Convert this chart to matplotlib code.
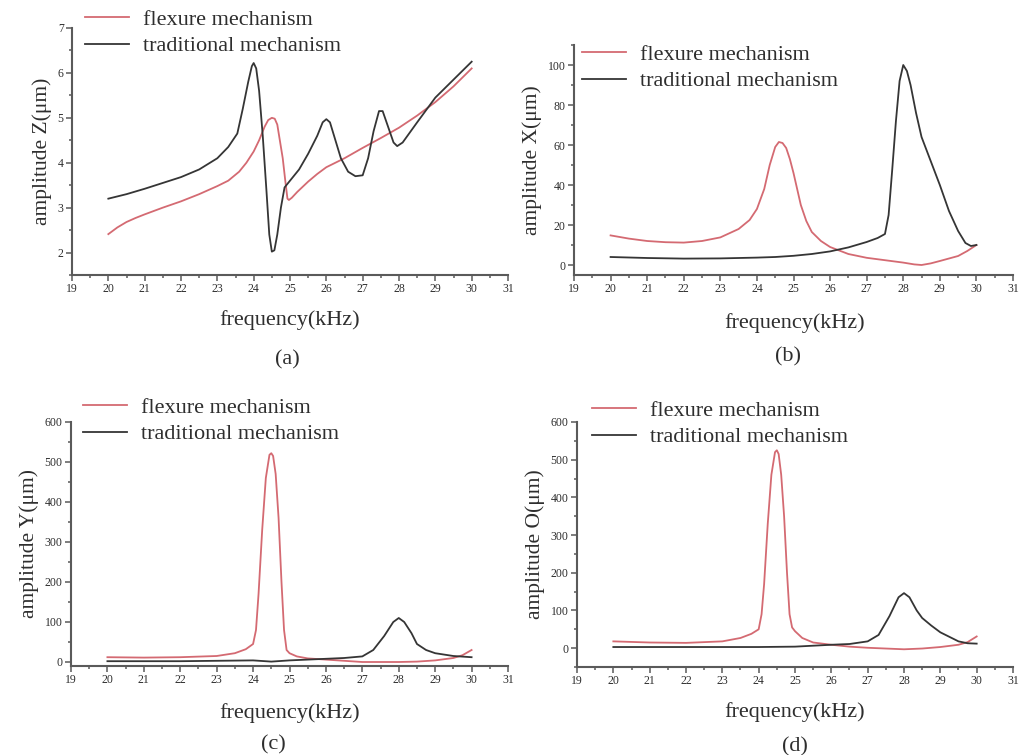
import matplotlib
matplotlib.use("Agg")
import matplotlib.pyplot as plt
from matplotlib.ticker import MultipleLocator

plt.rcParams["font.family"] = ["Liberation Serif", "DejaVu Serif"]

RED = "#d46a72"
DARK = "#353535"
AXC = "#5a5a5a"
TXT = "#2e2e2e"

# ---- (a) amplitude Z ----
fz_flex = [20, 20.25, 20.5, 20.75, 21, 21.5, 22, 22.5, 23, 23.3, 23.6, 23.8, 24, 24.15, 24.3, 24.4, 24.5,
           24.58, 24.65, 24.72, 24.8, 24.87, 24.93, 24.97, 25.05, 25.2, 25.5, 25.75, 26, 26.5, 27, 27.5,
           28, 28.5, 29, 29.5, 30]
z_flex = [2.41, 2.56, 2.68, 2.77, 2.85, 3.0, 3.14, 3.3, 3.48, 3.6, 3.8, 4.0, 4.25, 4.5, 4.8, 4.95, 5.0,
          4.98, 4.85, 4.5, 4.1, 3.6, 3.2, 3.17, 3.22, 3.35, 3.58, 3.75, 3.9, 4.1, 4.33, 4.55,
          4.78, 5.05, 5.35, 5.7, 6.1]
fz_trad = [20, 20.5, 21, 21.5, 22, 22.5, 23, 23.3, 23.55, 23.7, 23.85, 23.95, 24, 24.07, 24.15, 24.25,
           24.35, 24.43, 24.5, 24.57, 24.65, 24.75, 24.85, 25, 25.25, 25.5, 25.75, 25.9, 26, 26.1, 26.25,
           26.4, 26.6, 26.8, 27, 27.15, 27.3, 27.45, 27.55, 27.7, 27.85, 27.95, 28.1, 28.5, 29, 29.5, 30]
z_trad = [3.2, 3.3, 3.42, 3.55, 3.68, 3.85, 4.1, 4.35, 4.65, 5.2, 5.8, 6.15, 6.22, 6.1, 5.6, 4.6,
          3.4, 2.4, 2.02, 2.05, 2.4, 3.0, 3.45, 3.6, 3.85, 4.2, 4.6, 4.9, 4.97, 4.9, 4.5,
          4.1, 3.8, 3.7, 3.72, 4.1, 4.7, 5.15, 5.15, 4.8, 4.45, 4.37, 4.45, 4.9, 5.45, 5.85, 6.25]

# ---- (b) amplitude X ----
fx_flex = [20, 20.5, 21, 21.5, 22, 22.5, 23, 23.5, 23.8, 24, 24.2, 24.35, 24.5, 24.6, 24.7, 24.8, 24.9,
           25, 25.1, 25.2, 25.35, 25.5, 25.75, 26, 26.5, 27, 27.5, 28, 28.3, 28.5, 28.75, 29, 29.5,
           29.75, 30]
x_flex = [14.8, 13.2, 12, 11.4, 11.2, 12, 13.8, 18, 22.5, 28, 38, 50, 59, 61.5, 61, 58.5, 53,
          46, 38, 30, 22, 16.5, 12, 9, 5.5, 3.6, 2.4, 1.2, 0.3, 0, 0.8, 2, 4.5,
          7, 10]
fx_trad = [20, 21, 22, 23, 24, 24.5, 25, 25.5, 26, 26.5, 27, 27.3, 27.5, 27.6, 27.7, 27.8, 27.9, 28,
           28.1, 28.2, 28.35, 28.5, 28.75, 29, 29.25, 29.5, 29.7, 29.85, 30]
x_trad = [4, 3.5, 3.2, 3.3, 3.7, 4.0, 4.6, 5.5, 6.8, 8.8, 11.5, 13.5, 15.5, 25, 48, 72, 92, 100,
          97, 90, 76, 64, 52, 40, 27, 17, 11, 9.5, 10]

# ---- (c) amplitude Y ----
fy_flex = [20, 21, 22, 23, 23.5, 23.8, 24, 24.08, 24.15, 24.25, 24.35, 24.45, 24.5, 24.55, 24.62, 24.7,
           24.78, 24.85, 24.92, 25, 25.2, 25.5, 26, 26.5, 27, 28, 28.5, 29, 29.5, 29.75, 30]
y_flex = [12, 11, 12, 15, 22, 32, 45, 80, 170, 330, 460, 518, 522, 515, 470, 360,
          200, 80, 30, 22, 14, 9, 6, 3, 0, 0, 1, 4, 10, 17, 30]
fy_trad = [20, 22, 24, 24.5, 25, 26, 26.5, 27, 27.3, 27.6, 27.85, 28, 28.15, 28.35, 28.5, 28.75, 29,
           29.5, 30]
y_trad = [2, 2, 4, 1, 4, 8, 10, 14, 30, 65, 100, 110, 100, 72, 45, 30, 22,
          15, 12]

# ---- (d) amplitude O ----
fo_flex = [20, 21, 22, 23, 23.5, 23.8, 24, 24.08, 24.15, 24.25, 24.35, 24.45, 24.5, 24.55, 24.62, 24.7,
           24.78, 24.85, 24.92, 25, 25.2, 25.5, 26, 26.5, 27, 28, 28.5, 29, 29.5, 29.75, 30]
o_flex = [18, 15, 14, 18, 27, 38, 50, 90, 170, 330, 460, 520, 525, 515, 460, 350,
          200, 90, 55, 45, 27, 15, 9, 4, 1, -3, -1, 3, 9, 16, 31]
fo_trad = [20, 22, 24, 25, 26, 26.5, 27, 27.3, 27.6, 27.85, 28, 28.15, 28.35, 28.5, 28.75, 29, 29.5,
           29.75, 30]
o_trad = [3, 3, 3, 4, 9, 11, 18, 35, 85, 135, 146, 135, 100, 80, 60, 42, 18,
          13, 12]

# layout in pixels of the 1030x755 canvas: axes box, legend anchor, xlabel centre, caption centre
panels = [
    dict(box=(72, 28, 508, 275), f1=fz_flex, v1=z_flex, f2=fz_trad, v2=z_trad,
         ylim=(1.5, 7), major=1, minor=0.5, ylabel="amplitude Z(μm)", tag="(a)",
         leg=(85, 9), xl=(290, 320), cap=(287, 360)),
    dict(box=(574, 45, 1013, 275), f1=fx_flex, v1=x_flex, f2=fx_trad, v2=x_trad,
         ylim=(-5, 110), major=20, minor=10, ylabel="amplitude X(μm)", tag="(b)",
         leg=(582, 44), xl=(795, 323), cap=(788, 357)),
    dict(box=(71, 422, 508, 666), f1=fy_flex, v1=y_flex, f2=fy_trad, v2=y_trad,
         ylim=(-10, 600), major=100, minor=50, ylabel="amplitude Y(μm)", tag="(c)",
         leg=(83, 397), xl=(290, 713), cap=(273, 745)),
    dict(box=(577, 422, 1013, 667), f1=fo_flex, v1=o_flex, f2=fo_trad, v2=o_trad,
         ylim=(-50, 600), major=100, minor=50, ylabel="amplitude O(μm)", tag="(d)",
         leg=(592, 400), xl=(795, 712), cap=(795, 747)),
]

W, H = 1030, 755
fig = plt.figure(figsize=(W / 100, H / 100), dpi=100)
for p in panels:
    x0, y0, x1, y1 = p["box"]
    ax = fig.add_axes([x0 / W, 1 - y1 / H, (x1 - x0) / W, (y1 - y0) / H])
    ax.plot(p["f1"], p["v1"], color=RED, lw=1.3, label="flexure mechanism")
    ax.plot(p["f2"], p["v2"], color=DARK, lw=1.3, label="traditional mechanism")
    ax.set_xlim(19, 31)
    ax.set_ylim(*p["ylim"])
    ax.xaxis.set_major_locator(MultipleLocator(1))
    ax.xaxis.set_minor_locator(MultipleLocator(0.5))
    ax.yaxis.set_major_locator(MultipleLocator(p["major"]))
    ax.yaxis.set_minor_locator(MultipleLocator(p["minor"]))
    for s in ["top", "right"]:
        ax.spines[s].set_visible(False)
    for s in ["left", "bottom"]:
        ax.spines[s].set_color(AXC)
        ax.spines[s].set_linewidth(1.5)
    ax.tick_params(which="major", length=4, width=1.1, color=AXC, labelsize=8.5, labelcolor=TXT, pad=2)
    ax.tick_params(which="minor", length=2.5, width=1.1, color=AXC)
    ax.set_ylabel(p["ylabel"], fontsize=15.5, color=TXT, labelpad=4)
    ax.set_xlabel("frequency(kHz)", fontsize=16, color=TXT)
    ax.xaxis.set_label_coords((p["xl"][0] - x0) / (x1 - x0), (y1 - p["xl"][1]) / (y1 - y0))
    ax.xaxis.label.set_va("center")
    fig.text(p["cap"][0] / W, 1 - p["cap"][1] / H, p["tag"], ha="center", va="center",
             fontsize=16, color=TXT)
    ax.legend(loc="upper left", bbox_to_anchor=(p["leg"][0] / W, 1 - p["leg"][1] / H),
              bbox_transform=fig.transFigure, frameon=False, fontsize=16,
              handlelength=2.0, handletextpad=0.6, labelspacing=0.28, borderaxespad=0,
              borderpad=0, labelcolor=TXT)

fig.savefig("out.png", dpi=100)
